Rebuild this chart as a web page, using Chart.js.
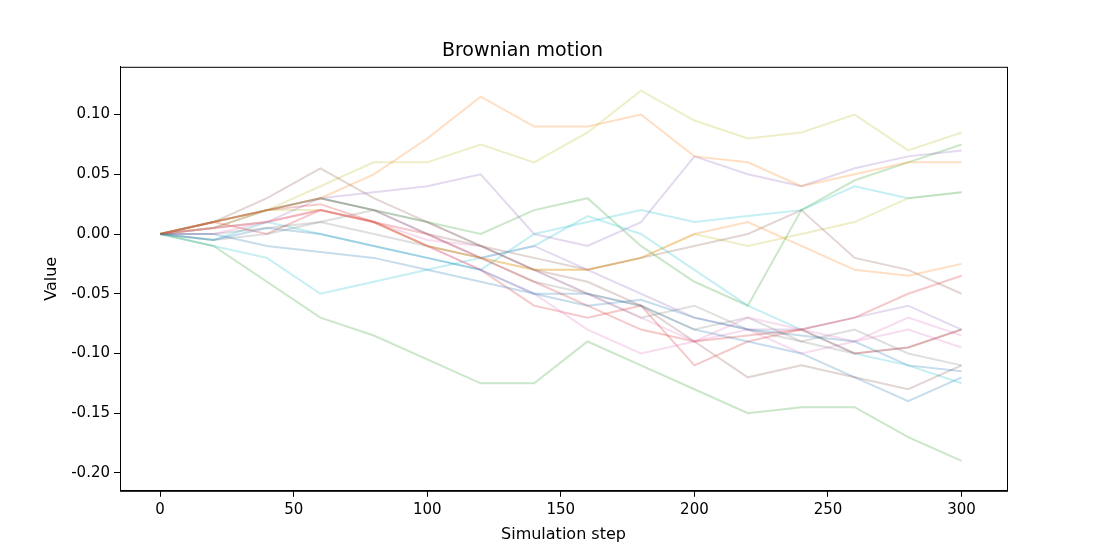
<!DOCTYPE html>
<html>
<head>
<meta charset="utf-8">
<script src="https://cdn.jsdelivr.net/npm/chart.js@4/dist/chart.umd.min.js"></script>
<style>
  html, body { margin: 0; padding: 0; background: #fff; }
  #wrap { width: 1120px; height: 560px; }
</style>
</head>
<body>
<div id="wrap"><canvas id="c"></canvas></div>
<script>
// steps sampled every 20 simulation steps
const steps = [0, 20, 40, 60, 80, 100, 120, 140, 160, 180, 200, 220, 240, 260, 280, 300];
const xTicks = [0, 50, 100, 150, 200, 250, 300];
const yTicks = [-0.20, -0.15, -0.10, -0.05, 0.00, 0.05, 0.10];

const s0  = [0, -0.005, 0.005, 0, -0.01, -0.02, -0.03, -0.05, -0.06, -0.055, -0.07, -0.08, -0.085, -0.09, -0.11, -0.115];
const s1  = [0, 0.01, 0.02, 0.03, 0.05, 0.08, 0.115, 0.09, 0.09, 0.10, 0.065, 0.06, 0.04, 0.05, 0.06, 0.06];
const s2  = [0, -0.01, -0.04, -0.07, -0.085, -0.105, -0.125, -0.125, -0.09, -0.11, -0.13, -0.15, -0.145, -0.145, -0.17, -0.19];
const s3  = [0, 0.01, 0.02, 0.025, 0.01, 0, -0.02, -0.04, -0.06, -0.08, -0.09, -0.085, -0.08, -0.1, -0.095, -0.08];
const s4  = [0, 0.01, 0.02, 0.03, 0.035, 0.04, 0.05, 0, -0.01, 0.01, 0.065, 0.05, 0.04, 0.055, 0.065, 0.07];
const s5  = [0, 0.01, 0.03, 0.055, 0.03, 0.01, -0.01, -0.03, -0.04, -0.06, -0.09, -0.12, -0.11, -0.12, -0.13, -0.11];
const s6  = [0, 0.005, 0.01, 0.02, 0.01, -0.01, -0.03, -0.05, -0.08, -0.1, -0.09, -0.07, -0.08, -0.09, -0.07, -0.085];
const s7  = [0, -0.005, 0, 0.01, 0.02, 0.01, -0.01, -0.03, -0.05, -0.06, -0.08, -0.07, -0.09, -0.1, -0.095, -0.08];
const s8  = [0, 0.01, 0.02, 0.04, 0.06, 0.06, 0.075, 0.06, 0.085, 0.12, 0.095, 0.08, 0.085, 0.1, 0.07, 0.085];
const s9  = [0, -0.01, -0.02, -0.05, -0.04, -0.03, -0.02, -0.01, 0.015, 0.0, -0.03, -0.06, -0.08, -0.1, -0.11, -0.125];
const s10 = [0, 0, -0.01, -0.015, -0.02, -0.03, -0.04, -0.05, -0.05, -0.06, -0.08, -0.09, -0.1, -0.12, -0.14, -0.12];
const s11 = [0, 0.005, 0.01, 0.02, 0.01, -0.01, -0.02, -0.03, -0.03, -0.02, 0, 0.01, -0.01, -0.03, -0.035, -0.025];
const s12 = [0, 0.01, 0.02, 0.03, 0.02, 0.01, 0, 0.02, 0.03, -0.01, -0.04, -0.06, 0.02, 0.045, 0.06, 0.075];
const s13 = [0, 0.01, 0.0, 0.02, 0.01, -0.01, -0.03, -0.06, -0.07, -0.06, -0.11, -0.09, -0.08, -0.07, -0.05, -0.035];
const s14 = [0, 0.005, 0.01, 0.03, 0.02, 0.0, -0.02, -0.01, -0.03, -0.05, -0.07, -0.08, -0.08, -0.07, -0.06, -0.08];
const s15 = [0, 0.005, 0.02, 0.03, 0.02, 0, -0.01, -0.02, -0.03, -0.02, -0.01, 0, 0.02, -0.02, -0.03, -0.05];
const s16 = [0, 0, 0.01, 0.02, 0.01, -0.005, -0.01, -0.03, -0.05, -0.07, -0.09, -0.08, -0.1, -0.09, -0.08, -0.095];
const s17 = [0, 0, 0.005, 0.01, 0, -0.01, -0.02, -0.04, -0.05, -0.07, -0.06, -0.08, -0.09, -0.08, -0.1, -0.11];
const s18 = [0, 0.005, 0.02, 0.02, 0.01, -0.01, -0.02, -0.03, -0.03, -0.02, 0, -0.01, 0.0, 0.01, 0.03, 0.035];
const s19 = [0, -0.005, 0.01, 0.0, -0.01, -0.02, -0.03, 0.0, 0.01, 0.02, 0.01, 0.015, 0.02, 0.04, 0.03, 0.035];

const series = [s0, s1, s2, s3, s4, s5, s6, s7, s8, s9, s10, s11, s12, s13, s14, s15, s16, s17, s18, s19];
const tab10 = ['31,119,180', '255,127,14', '44,160,44', '214,39,40', '148,103,189',
               '140,86,75', '227,119,194', '127,127,127', '188,189,34', '23,190,207'];

const FONT = "'DejaVu Sans', sans-serif";

const frame = {
  id: 'frame',
  afterDraw(chart) {
    const a = chart.chartArea, ctx = chart.ctx;
    ctx.save();
    ctx.strokeStyle = '#000';
    ctx.lineWidth = 1;
    ctx.strokeRect(a.left + 0.5, a.top + 0.5, a.right - a.left, a.bottom - a.top);
    ctx.restore();
  }
};

new Chart(document.getElementById('c'), {
  type: 'line',
  data: {
    datasets: series.map((s, i) => ({
      data: s.map((v, j) => ({x: steps[j], y: v})),
      borderColor: 'rgba(' + tab10[i % 10] + ',0.25)',
      borderWidth: 2,
      pointRadius: 0,
      tension: 0
    }))
  },
  options: {
    responsive: true,
    maintainAspectRatio: false,
    animation: false,
    layout: {padding: {left: 38, right: 113, top: 10, bottom: 12}},
    plugins: {
      legend: {display: false},
      tooltip: {enabled: false},
      title: {display: true, text: 'Brownian motion', color: '#000',
              font: {family: FONT, size: 19, weight: 'normal'}, padding: {top: 30, bottom: 4}}
    },
    scales: {
      x: {
        type: 'linear', min: -15, max: 317,
        afterBuildTicks: ax => { ax.ticks = xTicks.map(v => ({value: v})); },
        ticks: {color: '#000', font: {family: FONT, size: 15}, padding: 4, maxRotation: 0},
        grid: {drawOnChartArea: false, color: '#000', tickLength: 6},
        border: {color: '#000'},
        title: {display: true, text: 'Simulation step', color: '#000', font: {family: FONT, size: 16}, padding: {top: 2}}
      },
      y: {
        min: -0.215, max: 0.14,
        afterBuildTicks: ax => { ax.ticks = yTicks.map(v => ({value: v})); },
        ticks: {color: '#000', font: {family: FONT, size: 15}, padding: 4,
                callback: v => v.toFixed(2)},
        grid: {drawOnChartArea: false, color: '#000', tickLength: 6},
        border: {color: '#000'},
        title: {display: true, text: 'Value', color: '#000', font: {family: FONT, size: 16}, padding: {bottom: 6}}
      }
    }
  },
  plugins: [frame]
});
</script>
</body>
</html>
